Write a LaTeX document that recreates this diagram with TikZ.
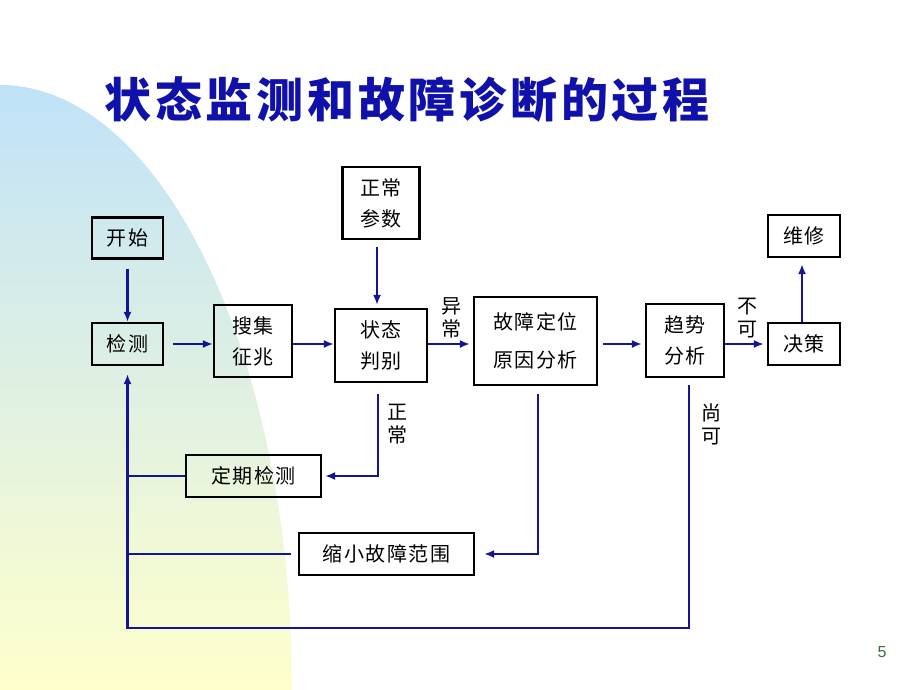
\documentclass[tikz,border=0pt]{standalone}
\usepackage{fontspec}
\usetikzlibrary{arrows.meta}
\newfontfamily\cjk[LetterSpace=8]{Noto Sans CJK SC}
\newfontfamily\cjkl{Noto Sans CJK SC}
\newfontfamily\numfont{Liberation Sans}
\definecolor{titleblue}{RGB}{16,16,170}
\definecolor{lineblue}{RGB}{20,20,150}
\definecolor{bgtop}{RGB}{192,226,248}
\definecolor{bgmid}{RGB}{226,241,226}
\definecolor{bgbot}{RGB}{255,255,204}
\definecolor{pagegreen}{RGB}{60,110,60}
\begin{document}
\begin{tikzpicture}[x=1pt,y=-1pt,
  box/.style={draw=black, line width=2.2pt, inner sep=0pt, align=center,
    font=\cjk\fontsize{20}{31}\selectfont},
  arr/.style={draw=lineblue, line width=2.1pt, -{Latex[length=10pt,width=8pt]}},
  ln/.style={draw=lineblue, line width=2.1pt},
  lab/.style={inner sep=0pt, align=center, font=\cjkl\fontsize{20}{23}\selectfont}]
\useasboundingbox (0,0) rectangle (920,690);
\fill[white] (0,0) rectangle (920,690);
% background
\shade[top color=bgtop, middle color=bgmid, bottom color=bgbot]
  (0,85) .. controls (161.3,85) and (292,355.9) .. (292,690) -- (0,690) -- cycle;
% title
\node[inner sep=0pt, text=titleblue, font=\cjkl\bfseries\fontsize{47}{50}\selectfont\addfontfeature{LetterSpace=8}] (title) at (407,100) {状态监测和故障诊断的过程};
% nodes
\node[box, minimum width=71pt, minimum height=41pt] (kaishi) at (127.5,238) {开始};
\node[box, minimum width=71pt, minimum height=42pt] (jiance) at (127.5,344) {检测};
\node[box, minimum width=78pt, minimum height=72pt] (souji) at (253,341) {搜集\\征兆};
\node[box, minimum width=77pt, minimum height=72pt] (zccs) at (381,203) {正常\\参数};
\node[box, minimum width=92pt, minimum height=73pt] (zhuangtai) at (381,345.5) {状态\\判别};
\node[box, minimum width=123pt, minimum height=88pt] (guzhang) at (535.5,341) {故障定位\\[7pt]原因分析};
\node[box, minimum width=78pt, minimum height=73pt] (qushi) at (685,340.5) {趋势\\分析};
\node[box, minimum width=72pt, minimum height=42pt] (juece) at (804,344) {决策};
\node[box, minimum width=72pt, minimum height=42pt] (weixiu) at (804,236) {维修};
\node[box, minimum width=135pt, minimum height=42pt] (dingqi) at (253.5,476) {定期检测};
\node[box, minimum width=175pt, minimum height=42pt] (suoxiao) at (386.5,554) {缩小故障范围};
\coordinate (row) at (0,344);
\coordinate (bot) at (0,628);
% labels
\node[lab] (lyc) at (451,318) {异\\常};
\node[lab] (lbk) at (747,318) {不\\可};
\node[lab] (lzc) at (397,424) {正\\常};
\node[lab] (lsk) at (711,424) {尚\\可};
% connectors
\draw[arr, shorten <=9pt] (kaishi) -- (jiance);
\draw[arr, shorten <=9pt] (jiance.east |- row) -- (souji.west |- row);
\draw[arr] (souji.east |- row) -- (zhuangtai.west |- row);
\draw[arr, shorten <=7pt, shorten >=3pt] ([xshift=-4pt]zccs.south) -- ([xshift=-4pt]zhuangtai.north);
\draw[arr, shorten >=3pt] (zhuangtai.east |- row) -- (guzhang.west |- row);
\draw[arr, shorten <=5pt, shorten >=3pt] (guzhang.east |- row) -- (qushi.west |- row);
\draw[arr, shorten >=3pt] (qushi.east |- row) -- (juece.west |- row);
\draw[arr, shorten >=6pt] ([xshift=-2pt]juece.north) -- ([xshift=-2pt]weixiu.south);
\draw[arr, shorten <=11pt, shorten >=3pt] ([xshift=-3pt]zhuangtai.south) -- ([xshift=-3pt]zhuangtai.south |- dingqi.east) -- (dingqi.east);
\draw[arr, shorten <=8pt, shorten >=9pt] ([xshift=2.5pt]guzhang.south) -- ([xshift=2.5pt]guzhang.south |- suoxiao.east) -- (suoxiao.east);
\draw[ln] (dingqi.west) -- (dingqi.west -| jiance.south);
\draw[ln, shorten <=7pt] (suoxiao.west) -- (suoxiao.west -| jiance.south);
\draw[arr, shorten <=7pt, shorten >=8pt] ([xshift=4pt]qushi.south) -- ([xshift=4pt]qushi.south |- bot) -- (jiance.south |- bot) -- (jiance.south);
% page number
\node[inner sep=0pt, text=pagegreen, font=\numfont\fontsize{16}{18}\selectfont] (pnum) at (882,652) {5};
\end{tikzpicture}
\end{document}
